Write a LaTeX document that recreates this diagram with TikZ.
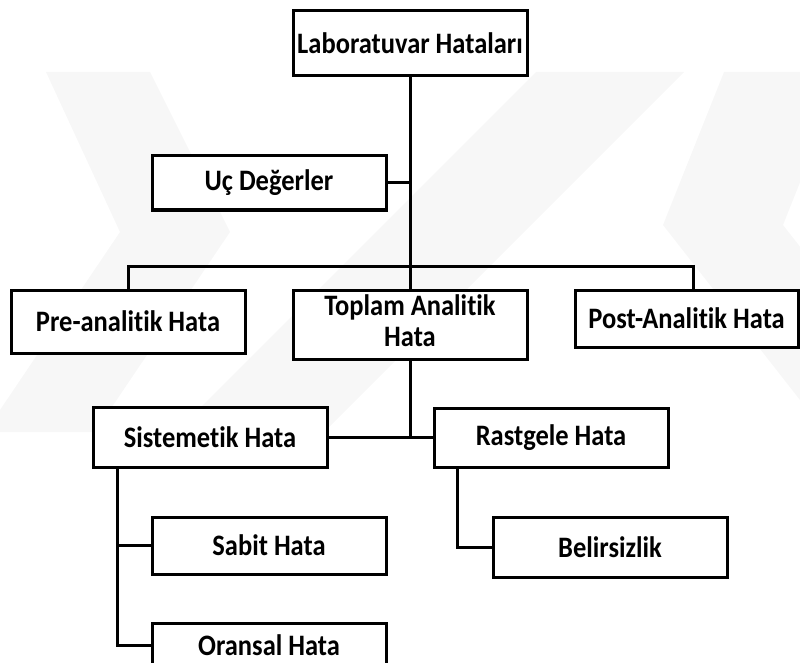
\documentclass[tikz,border=0pt]{standalone}
\usepackage{graphicx}
\usepackage{fontspec}
\setmainfont{Carlito}[Ligatures={NoCommon,NoRequired,NoContextual}]
\newcommand\talltext[1]{\scalebox{1}[1.12]{#1}}
\begin{document}
\begin{tikzpicture}[x=1pt,y=-1pt,
  box/.style={draw=black, line width=3pt, fill=white, inner sep=0pt, align=center,
    minimum width=234pt, font=\bfseries\fontsize{26.5}{28}\selectfont},
  link/.style={draw=black, line width=3pt},
  wmark/.style={fill=black!3, draw=none}]
\useasboundingbox (0,0) rectangle (800,663);
% faint watermark
\fill[wmark] (46,72) -- (150,72) -- (230,232) -- (95,432) -- (0,432) -- (0,410) -- (120,232) -- cycle;
\fill[wmark] (536,72) -- (684,72) -- (324,432) -- (176,432) -- cycle;
\fill[wmark] (724,72) -- (844,72) -- (783,225) -- (920,400) -- (800,400) -- (663,225) -- cycle;
% nodes
\node[box, minimum height=65pt] (lab) at (410,43.5) {\talltext{Laboratuvar Hataları}};
\node[box, minimum height=54pt] (uc) at (269,183) {\talltext{Uç Değerler}};
\node[box, minimum height=63pt] (pre) at (128,321.5) {\talltext{Pre-analitik Hata}};
\node[box, minimum height=69pt] (top) at (410,324.5) {\talltext{\begin{tabular}{@{}c@{}}Toplam Analitik\\Hata\end{tabular}}};
\node[box, minimum width=223pt, minimum height=57pt] (post) at (686.5,318.5) {\talltext{Post-Analitik Hata}};
\node[box, minimum height=60pt] (sis) at (210,437.5) {\talltext{Sistemetik Hata}};
\node[box, minimum height=59pt] (ras) at (551,437.5) {\talltext{Rastgele Hata}};
\node[box, minimum height=57pt] (sab) at (269,545.5) {\talltext{Sabit Hata}};
\node[box, minimum height=60pt] (bel) at (610,547) {\talltext{Belirsizlik}};
\node[box, minimum height=44pt] (ora) at (269,645) {\talltext{Oransal Hata}};
% coordinates
\coordinate (busL) at (128,266);
\coordinate (busR) at (693,266);
\coordinate (jn) at (410,437.5);
\coordinate (sisX) at (117,467);
\coordinate (rasX) at (457,467);
% connectors
\draw[link] (lab.south) -- (top.north);
\draw[link] (uc.east) -- (uc.east -| lab.south);
\draw[link] (pre.north) -- (busL) -- (busR) -- (busR |- post.north);
\draw[link] (top.south) -- (jn);
\draw[link] (sis.east) -- (ras.west);
\draw[link] (sisX) |- (sab.west);
\draw[link] (sisX) |- (ora.west);
\draw[link] (rasX) |- (bel.west);
\end{tikzpicture}
\end{document}
